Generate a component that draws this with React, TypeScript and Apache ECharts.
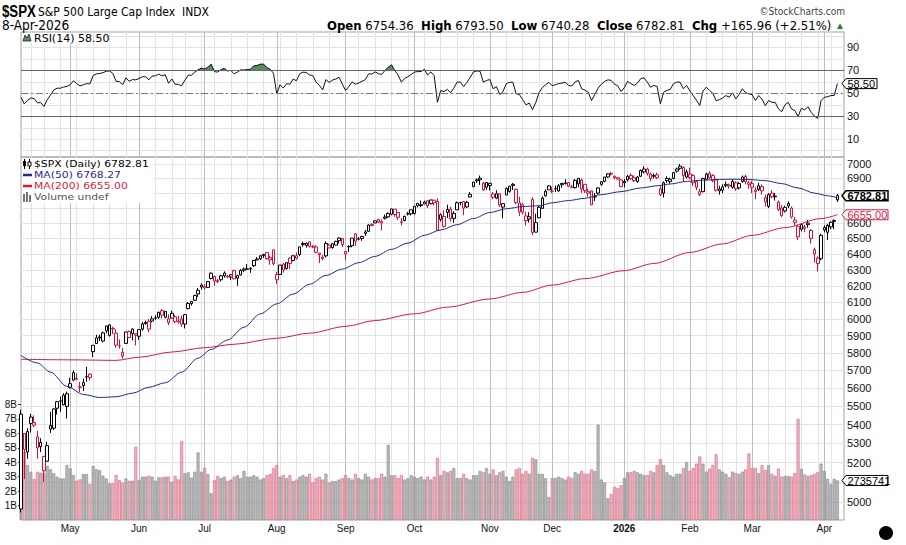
import React, { useEffect, useRef } from "react";
import * as echarts from "echarts";

// ---------------- DATA ----------------
const tradingDays: [number, number, number[]][] = [
  [2025, 4, [9, 10, 11, 14, 15, 16, 17, 21, 22, 23, 24, 25, 28, 29, 30]],
  [2025, 5, [1, 2, 5, 6, 7, 8, 9, 12, 13, 14, 15, 16, 19, 20, 21, 22, 23, 27, 28, 29, 30]],
  [2025, 6, [2, 3, 4, 5, 6, 9, 10, 11, 12, 13, 16, 17, 18, 20, 23, 24, 25, 26, 27, 30]],
  [2025, 7, [1, 2, 3, 7, 8, 9, 10, 11, 14, 15, 16, 17, 18, 21, 22, 23, 24, 25, 28, 29, 30, 31]],
  [2025, 8, [1, 4, 5, 6, 7, 8, 11, 12, 13, 14, 15, 18, 19, 20, 21, 22, 25, 26, 27, 28, 29]],
  [2025, 9, [2, 3, 4, 5, 8, 9, 10, 11, 12, 15, 16, 17, 18, 19, 22, 23, 24, 25, 26, 29, 30]],
  [2025, 10, [1, 2, 3, 6, 7, 8, 9, 10, 13, 14, 15, 16, 17, 20, 21, 22, 23, 24, 27, 28, 29, 30, 31]],
  [2025, 11, [3, 4, 5, 6, 7, 10, 11, 12, 13, 14, 17, 18, 19, 20, 21, 24, 25, 26, 28]],
  [2025, 12, [1, 2, 3, 4, 5, 8, 9, 10, 11, 12, 15, 16, 17, 18, 19, 22, 23, 24, 26, 29, 30, 31]],
  [2026, 1, [2, 5, 6, 7, 8, 9, 12, 13, 14, 15, 16, 20, 21, 22, 23, 26, 27, 28, 29, 30]],
  [2026, 2, [2, 3, 4, 5, 6, 9, 10, 11, 12, 13, 17, 18, 19, 20, 23, 24, 25, 26, 27]],
  [2026, 3, [2, 3, 4, 5, 6, 9, 10, 11, 12, 13, 16, 17, 18, 19, 20, 23, 24, 25, 26, 27, 30, 31]],
  [2026, 4, [1, 2, 6, 7, 8]],
];

// [open, high, low, close]
const ohlcApr25 = [
  [4965, 5481, 4948, 5457], [5353, 5353, 5115, 5268], [5255, 5381, 5220, 5363], [5441, 5459, 5358, 5406],
  [5411, 5450, 5386, 5397], [5335, 5367, 5220, 5276], [5305, 5328, 5255, 5283], [5232, 5232, 5101, 5158],
  [5207, 5309, 5207, 5288], [5395, 5469, 5356, 5376], [5381, 5489, 5371, 5485], [5489, 5528, 5455, 5525],
  [5529, 5553, 5468, 5529], [5508, 5572, 5505, 5561], [5499, 5581, 5433, 5569],
];
const ohlcMay25 = [
  [5625, 5658, 5597, 5604], [5645, 5700, 5639, 5687], [5655, 5683, 5644, 5650], [5605, 5634, 5578, 5607],
  [5614, 5654, 5584, 5631], [5663, 5720, 5635, 5664], [5679, 5683, 5643, 5660], [5807, 5845, 5775, 5844],
  [5854, 5906, 5853, 5887], [5887, 5906, 5869, 5893], [5869, 5924, 5861, 5917], [5929, 5958, 5914, 5958],
  [5902, 5968, 5895, 5964], [5944, 5953, 5909, 5940], [5915, 5938, 5830, 5845], [5841, 5878, 5825, 5842],
  [5781, 5829, 5767, 5803], [5855, 5922, 5854, 5922], [5925, 5930, 5886, 5889], [5939, 5944, 5873, 5912],
  [5903, 5915, 5843, 5911],
];
const ohlcJun25 = [
  [5897, 5937, 5876, 5936], [5939, 5981, 5929, 5970], [5978, 5990, 5966, 5971], [5985, 5999, 5921, 5939],
  [5987, 6016, 5978, 6000], [6005, 6021, 5994, 6006], [6009, 6043, 6000, 6039], [6049, 6059, 6002, 6022],
  [6009, 6045, 6003, 6045], [6000, 6027, 5963, 5977], [6004, 6050, 6004, 6033], [6012, 6023, 5974, 5983],
  [5987, 6018, 5971, 5981], [5999, 6018, 5952, 5968], [5969, 6028, 5943, 6025], [6061, 6101, 6058, 6092],
  [6104, 6108, 6080, 6092], [6112, 6146, 6107, 6141], [6150, 6187, 6133, 6173], [6193, 6215, 6177, 6205],
];
const ohlcJul25 = [
  [6187, 6210, 6177, 6198], [6191, 6227, 6188, 6227], [6246, 6284, 6240, 6279], [6259, 6262, 6201, 6230],
  [6233, 6242, 6217, 6226], [6238, 6269, 6228, 6263], [6262, 6290, 6251, 6280], [6255, 6269, 6247, 6260],
  [6255, 6272, 6237, 6269], [6295, 6302, 6241, 6244], [6248, 6268, 6201, 6264], [6268, 6304, 6264, 6297],
  [6305, 6315, 6285, 6297], [6304, 6336, 6303, 6306], [6306, 6316, 6281, 6310], [6326, 6360, 6317, 6359],
  [6368, 6381, 6360, 6363], [6370, 6390, 6363, 6389], [6397, 6401, 6375, 6390], [6409, 6409, 6365, 6371],
  [6377, 6390, 6332, 6363], [6427, 6427, 6327, 6339],
];
const ohlcAug25 = [
  [6270, 6288, 6212, 6238], [6271, 6330, 6271, 6330], [6336, 6344, 6283, 6299], [6309, 6350, 6301, 6345],
  [6374, 6379, 6305, 6340], [6359, 6390, 6354, 6389], [6389, 6410, 6364, 6373], [6397, 6446, 6386, 6446],
  [6460, 6480, 6447, 6467], [6455, 6473, 6441, 6469], [6478, 6481, 6441, 6450], [6445, 6457, 6437, 6449],
  [6445, 6457, 6404, 6411], [6406, 6407, 6343, 6396], [6380, 6394, 6360, 6370], [6388, 6481, 6378, 6467],
  [6457, 6466, 6438, 6439], [6441, 6468, 6434, 6466], [6457, 6485, 6457, 6481], [6485, 6508, 6468, 6502],
  [6500, 6501, 6444, 6460],
];
const ohlcSep25 = [
  [6401, 6416, 6361, 6416], [6446, 6456, 6414, 6448], [6453, 6502, 6443, 6502], [6530, 6533, 6452, 6482],
  [6498, 6510, 6488, 6495], [6500, 6513, 6485, 6513], [6542, 6555, 6516, 6532], [6546, 6592, 6546, 6587],
  [6590, 6600, 6579, 6584], [6601, 6616, 6600, 6615], [6625, 6626, 6600, 6607], [6610, 6624, 6551, 6600],
  [6640, 6656, 6624, 6632], [6641, 6671, 6634, 6664], [6659, 6696, 6651, 6694], [6692, 6692, 6642, 6657],
  [6670, 6670, 6620, 6638], [6608, 6633, 6584, 6605], [6617, 6650, 6612, 6644], [6661, 6674, 6650, 6661],
  [6661, 6689, 6651, 6688],
];
const ohlcOct25 = [
  [6664, 6714, 6656, 6711], [6731, 6731, 6703, 6715], [6722, 6750, 6705, 6716], [6727, 6749, 6726, 6740],
  [6749, 6754, 6700, 6715], [6729, 6753, 6724, 6754], [6752, 6756, 6717, 6735], [6744, 6764, 6550, 6553],
  [6625, 6664, 6610, 6655], [6579, 6686, 6570, 6644], [6690, 6722, 6634, 6671], [6692, 6709, 6611, 6629],
  [6631, 6678, 6602, 6664], [6688, 6743, 6688, 6735], [6736, 6742, 6718, 6735], [6743, 6744, 6652, 6699],
  [6707, 6747, 6700, 6738], [6774, 6807, 6772, 6792], [6843, 6877, 6843, 6875], [6884, 6900, 6870, 6891],
  [6902, 6920, 6856, 6891], [6867, 6877, 6815, 6822], [6872, 6873, 6822, 6840],
];
const ohlcNov25 = [
  [6867, 6870, 6818, 6852], [6794, 6808, 6758, 6772], [6766, 6820, 6760, 6796], [6795, 6799, 6707, 6720],
  [6706, 6729, 6631, 6729], [6787, 6838, 6787, 6832], [6812, 6850, 6803, 6847], [6860, 6869, 6822, 6851],
  [6826, 6830, 6725, 6737], [6674, 6775, 6646, 6734], [6722, 6735, 6657, 6672], [6647, 6675, 6583, 6617],
  [6627, 6672, 6604, 6642], [6757, 6771, 6521, 6539], [6541, 6662, 6539, 6603], [6635, 6714, 6632, 6705],
  [6697, 6777, 6694, 6766], [6782, 6826, 6777, 6813], [6822, 6853, 6822, 6849],
];
const ohlcDec25 = [
  [6813, 6843, 6800, 6813], [6830, 6851, 6808, 6829], [6815, 6862, 6810, 6850], [6866, 6866, 6836, 6857],
  [6866, 6895, 6858, 6870], [6872, 6875, 6841, 6847], [6842, 6856, 6833, 6841], [6837, 6895, 6830, 6887],
  [6863, 6903, 6840, 6901], [6890, 6900, 6801, 6827], [6860, 6862, 6801, 6817], [6812, 6830, 6775, 6800],
  [6815, 6818, 6720, 6721], [6775, 6800, 6746, 6775], [6800, 6840, 6790, 6835], [6860, 6880, 6850, 6878],
  [6880, 6910, 6875, 6910], [6910, 6937, 6905, 6932], [6935, 6945, 6920, 6930], [6915, 6920, 6895, 6906],
  [6905, 6910, 6890, 6896], [6890, 6895, 6840, 6845],
];
const ohlcJan26 = [
  [6880, 6895, 6840, 6870], [6890, 6925, 6880, 6915], [6920, 6935, 6890, 6900], [6905, 6920, 6875, 6885],
  [6880, 6915, 6870, 6910], [6915, 6962, 6910, 6955], [6945, 6985, 6935, 6965], [6965, 6975, 6920, 6935],
  [6930, 6940, 6880, 6900], [6920, 6935, 6900, 6915], [6925, 6940, 6895, 6905], [6830, 6850, 6780, 6790],
  [6800, 6880, 6770, 6870], [6900, 6915, 6870, 6885], [6880, 6905, 6865, 6895], [6900, 6945, 6895, 6940],
  [6950, 6975, 6940, 6965], [6985, 7000, 6960, 6970], [6975, 6985, 6880, 6920], [6910, 6960, 6900, 6945],
];
const ohlcFeb26 = [
  [6930, 6975, 6895, 6905], [6920, 6930, 6850, 6870], [6880, 6890, 6820, 6840], [6810, 6830, 6780, 6790],
  [6810, 6905, 6805, 6900], [6895, 6940, 6890, 6930], [6935, 6950, 6895, 6905], [6920, 6930, 6875, 6885],
  [6890, 6900, 6810, 6820], [6815, 6850, 6790, 6828], [6820, 6860, 6800, 6842], [6850, 6880, 6840, 6860],
  [6855, 6865, 6830, 6848], [6840, 6895, 6830, 6880], [6870, 6880, 6815, 6830], [6835, 6875, 6825, 6865],
  [6880, 6920, 6870, 6910], [6915, 6925, 6860, 6878], [6860, 6885, 6830, 6870],
];
const ohlcMar26 = [
  [6840, 6885, 6800, 6865], [6820, 6840, 6760, 6810], [6825, 6870, 6815, 6850], [6845, 6860, 6790, 6815],
  [6770, 6790, 6710, 6740], [6710, 6800, 6700, 6790], [6800, 6820, 6765, 6775], [6780, 6800, 6750, 6775],
  [6740, 6750, 6680, 6690], [6700, 6720, 6640, 6650], [6680, 6715, 6670, 6705], [6715, 6745, 6700, 6730],
  [6700, 6710, 6630, 6640], [6605, 6640, 6580, 6620], [6580, 6590, 6490, 6510], [6560, 6600, 6545, 6590],
  [6575, 6590, 6540, 6565], [6590, 6620, 6570, 6600], [6552, 6560, 6467, 6500], [6428, 6440, 6345, 6400],
  [6374, 6385, 6290, 6340], [6370, 6530, 6360, 6520],
];
const ohlcApr26 = [
  [6555, 6585, 6540, 6570], [6540, 6595, 6490, 6585], [6575, 6612, 6560, 6605], [6610, 6625, 6560, 6616.85],
  [6754.36, 6793.5, 6740.28, 6782.81],
];

// volume in billions
const volumeB = [
  6.69, 4.73, 3.81, 3.34, 2.84, 3.34, 3.27, 3.23, 3.74, 3.51, 3.23, 3.0, 2.88, 2.88, 3.81,
  3.58, 3.11, 2.72, 2.81, 3.18, 3.18, 2.49, 3.74, 3.51, 3.45, 3.07, 2.88, 2.54, 2.54, 3.11, 2.77, 2.58, 2.88, 2.72, 2.72, 5.07,
  2.77, 3.0, 3.0, 3.07, 3.0, 2.72, 2.95, 2.95, 3.0, 3.0, 2.65, 3.05, 2.81, 5.47, 3.23, 3.3, 2.93, 3.34, 4.68, 3.34,
  3.62, 3.18, 1.85, 2.77, 3.05, 2.9, 3.0, 2.7, 2.8, 3.0, 3.1, 2.9, 3.4, 3.0, 3.0, 3.1, 3.0, 2.8, 2.9, 3.1, 3.2, 3.6,
  3.8, 3.0, 3.1, 2.9, 3.1, 2.7, 2.8, 3.0, 3.1, 3.0, 3.2, 2.6, 2.9, 3.0, 2.8, 3.2, 2.6, 2.7, 2.7, 2.8, 2.9,
  3.1, 2.9, 2.8, 3.2, 2.9, 2.8, 3.2, 3.0, 2.8, 2.9, 2.9, 3.2, 3.0, 5.2, 3.1, 3.1, 2.9, 3.1, 2.8, 2.9, 3.1,
  3.0, 2.9, 3.0, 2.8, 3.0, 2.8, 3.0, 4.3, 3.1, 3.4, 3.3, 3.4, 3.6, 2.9, 2.9, 3.2, 2.9, 2.8, 3.1, 3.1, 3.4, 3.3, 3.6,
  3.2, 3.5, 3.1, 3.3, 3.4, 3.0, 2.7, 3.0, 3.5, 3.6, 3.2, 3.4, 3.2, 4.3, 4.2, 3.2, 3.2, 2.9, 1.6,
  2.9, 2.9, 3.0, 2.9, 2.8, 3.0, 2.9, 3.3, 3.2, 3.4, 3.2, 3.2, 3.5, 3.4, 6.6, 2.8, 2.6, 1.5, 1.8, 2.3, 2.2, 2.4,
  2.9, 3.3, 3.3, 3.4, 3.3, 3.2, 3.1, 3.1, 3.4, 3.3, 3.8, 4.2, 3.8, 3.3, 3.1, 3.0, 3.2, 3.2, 3.6, 4.0,
  3.4, 3.6, 3.9, 4.4, 3.9, 3.35, 3.55, 3.8, 4.55, 3.5, 3.35, 3.2, 2.95, 3.35, 3.25, 3.2, 3.35, 3.5, 4.6,
  3.6, 3.6, 3.25, 3.8, 3.45, 3.8, 3.2, 3.05, 3.55, 3.0, 3.05, 3.05, 3.0, 3.25, 7.0, 3.55, 3.15, 3.05, 3.1, 3.2, 3.3, 3.9,
  3.4, 2.85, 2.5, 2.85, 2.735741,
];

const rsi14 = [
  46.5, 40.8, 44, 46, 45.5, 41.7, 42, 38.5, 44.5, 48.5, 53, 54.5, 54.5, 55.5, 56,
  57.5, 61, 58.5, 56.5, 57.5, 58.5, 58.2, 65.5, 67, 67.3, 68, 69.3, 69.5, 67.5, 60.5, 60.3, 57.5, 63.5, 60.5, 62, 61.8,
  63, 64.5, 64.5, 61.8, 65, 65.3, 66.8, 65.2, 66.2, 58.8, 62.5, 58, 57.8, 56.6, 61.5, 65.8, 65.8, 68.5, 70.5, 72,
  71.2, 72.8, 75.5, 69, 68.5, 70.8, 71.8, 69.5, 70, 67, 68.5, 70.5, 70.3, 70.8, 71, 74, 74.3, 75.5, 75.5, 72.5, 71, 67.5,
  49.5, 57.5, 54.6, 58.4, 58, 62.5, 61, 67, 68.5, 68.2, 66, 65.5, 59.8, 57, 53, 62, 59.5, 61.5, 62.5, 64, 58,
  52.5, 56, 60, 58, 59, 60.5, 62, 67, 66.8, 68.7, 67.2, 66.5, 70, 72.8, 75, 70, 66, 59.8, 63, 64.5, 66.5,
  68.5, 69, 69, 71, 66, 68.7, 65.5, 42.2, 52.5, 51.5, 53.5, 50.5, 54.5, 59.8, 59.8, 56, 59.5, 64, 68.7, 69.5, 69.3, 59.8, 61.3,
  62, 54, 55.8, 49, 51.5, 58.5, 59.5, 59.8, 49.6, 49, 44.5, 40, 41.5, 35.8, 42, 50.5, 55, 57.5, 59.5,
  56.6, 57.5, 58.5, 59, 59.8, 56.9, 56.5, 60, 61.3, 54, 52.8, 51, 43.7, 49, 54.5, 58, 60.4, 61.8, 61.3, 58, 56.5, 51.6,
  55, 60.4, 58.5, 56.9, 59, 62.8, 63.5, 59.8, 55.4, 56.9, 56, 40.8, 51, 52.5, 53.5, 58.4, 59.8, 59.8, 54, 56.9,
  52, 48.1, 44, 39.3, 52, 55.4, 52.5, 50, 43.7, 44.5, 46, 48.1, 46.6, 50.5, 45.2, 49, 54, 50.5, 49.6,
  48.8, 43.7, 48.1, 45, 39.3, 43.7, 42.2, 42.2, 36.5, 34, 40, 42.2, 36.4, 35, 29.9, 37, 35.5, 38.4, 33.4, 30, 28.2, 43.7,
  46.6, 47, 48.1, 48.1, 58.5,
];

const ma50Points: [string, number][] = [
  ["2025-04-09", 5785], ["2025-04-16", 5742], ["2025-04-23", 5690], ["2025-04-30", 5610], ["2025-05-07", 5565],
  ["2025-05-14", 5548], ["2025-05-21", 5552], ["2025-05-29", 5572], ["2025-06-05", 5605], ["2025-06-12", 5630],
  ["2025-06-20", 5690], ["2025-06-27", 5770], ["2025-07-03", 5820], ["2025-07-11", 5875], ["2025-07-18", 5950],
  ["2025-07-25", 6030], ["2025-08-01", 6090], ["2025-08-08", 6150], ["2025-08-15", 6210], ["2025-08-22", 6265],
  ["2025-08-29", 6305], ["2025-09-08", 6345], ["2025-09-15", 6385], ["2025-09-22", 6430], ["2025-09-29", 6470],
  ["2025-10-06", 6520], ["2025-10-13", 6555], ["2025-10-20", 6590], ["2025-10-27", 6630], ["2025-11-03", 6670],
  ["2025-11-10", 6695], ["2025-11-17", 6710], ["2025-11-24", 6715], ["2025-12-01", 6735], ["2025-12-08", 6750],
  ["2025-12-15", 6765], ["2025-12-22", 6790], ["2025-12-31", 6810], ["2026-01-09", 6835], ["2026-01-16", 6850],
  ["2026-01-23", 6862], ["2026-01-30", 6880], ["2026-02-06", 6888], ["2026-02-13", 6893], ["2026-02-20", 6895],
  ["2026-02-27", 6893], ["2026-03-06", 6885], ["2026-03-13", 6865], ["2026-03-20", 6835], ["2026-03-27", 6800],
  ["2026-04-02", 6782], ["2026-04-08", 6768.27],
];
const ma200Points: [string, number][] = [
  ["2025-04-09", 5763], ["2025-05-01", 5760], ["2025-05-21", 5757], ["2025-06-02", 5775], ["2025-06-16", 5805],
  ["2025-07-01", 5830], ["2025-07-15", 5850], ["2025-08-01", 5885], ["2025-08-15", 5915], ["2025-09-02", 5955],
  ["2025-09-15", 5990], ["2025-10-01", 6030], ["2025-10-15", 6070], ["2025-11-03", 6120], ["2025-11-17", 6160],
  ["2025-12-01", 6205], ["2025-12-15", 6245], ["2026-01-02", 6295], ["2026-01-15", 6340], ["2026-02-02", 6410],
  ["2026-02-17", 6465], ["2026-03-02", 6520], ["2026-03-16", 6570], ["2026-03-31", 6630], ["2026-04-08", 6655],
];

const priceTicks = [5000, 5100, 5200, 5300, 5400, 5500, 5600, 5700, 5800, 5900, 6000, 6100, 6200, 6300, 6400, 6500, 6600, 6700, 6800, 6900, 7000];
// 5100, 6700 and 6800 sit under the value tags, as in the original
const priceLabels = [5000, 5200, 5300, 5400, 5500, 5600, 5700, 5800, 5900, 6000, 6100, 6200, 6300, 6400, 6500, 6600, 6900, 7000];
const rsiGridValues = [0, 10, 20, 30, 40, 50, 60, 70, 80, 90, 100];
const rsiLabelValues = [10, 30, 50, 70, 90];
const volumeTicks = [1, 2, 3, 4, 5, 6, 7, 8];
const monthNames = ["Jan", "Feb", "Mar", "Apr", "May", "Jun", "Jul", "Aug", "Sep", "Oct", "Nov", "Dec"];

const lastClose = 6782.81;
const lastMa50 = 6768.27;
const lastMa200 = 6655.0;
const lastRsi = 58.5;
const lastVolume = 2735741;

// ---------------- HELPERS ----------------
const UP = "#000000";
const DOWN = "#cf1038";
const NARROW = "'Liberation Sans Narrow','Arial Narrow','DejaVu Sans Condensed','Liberation Sans',sans-serif";
const VERD = "'DejaVu Sans',Verdana,sans-serif";
const ARIAL = "'Liberation Sans',Arial,sans-serif";

function buildDates() {
  const dates: string[] = [];
  const dayNums: number[] = [];
  tradingDays.forEach(([y, m, ds]) =>
    ds.forEach((d) => {
      dates.push(`${y}-${String(m).padStart(2, "0")}-${String(d).padStart(2, "0")}`);
      dayNums.push(Date.UTC(y, m - 1, d) / 86400000);
    })
  );
  return { dates, dayNums };
}

export default function App() {
  const ref = useRef<HTMLDivElement>(null);

  useEffect(() => {
    if (!ref.current) return;
    const chart = echarts.init(ref.current, undefined, { renderer: "svg" });

    const { dates, dayNums } = buildDates();
    const n = dates.length;
    const categories = [...dates, "pad-1", "pad-2"];
    const monthStart: boolean[] = categories.map((_, i) => i > 0 && i < n && dates[i].slice(0, 7) !== dates[i - 1].slice(0, 7));
    const weekStart: boolean[] = categories.map((_, i) => {
      if (i === 0 || i >= n || monthStart[i]) return false;
      return Math.floor((dayNums[i] + 3) / 7) !== Math.floor((dayNums[i - 1] + 3) / 7);
    });

    const ohlc = [
      ...ohlcApr25, ...ohlcMay25, ...ohlcJun25, ...ohlcJul25, ...ohlcAug25, ...ohlcSep25,
      ...ohlcOct25, ...ohlcNov25, ...ohlcDec25, ...ohlcJan26, ...ohlcFeb26, ...ohlcMar26, ...ohlcApr26,
    ];
    const dirColor = (i: number) => (i === 0 || ohlc[i][3] >= ohlc[i - 1][3] ? UP : DOWN);
    const candleData = ohlc.map(([o, h, l, c], i) => {
      const col = dirColor(i);
      return {
        value: [o, c, l, h],
        itemStyle: { color: "#ffffff", color0: col, borderColor: col, borderColor0: col, borderWidth: 1 },
      };
    });
    const volData = volumeB.map((v, i) => {
      const up = dirColor(i) === UP;
      return {
        value: v,
        itemStyle: up
          ? { color: "rgba(150,150,150,0.65)", borderColor: "#8f8f8f", borderWidth: 0.7 }
          : { color: "rgba(222,140,156,0.62)", borderColor: "#dd7088", borderWidth: 0.7 },
      };
    });
    const toLine = (pts: [string, number][]) => {
      const arr: (number | null)[] = categories.map(() => null);
      pts.forEach(([d, v]) => {
        const k = dates.indexOf(d);
        if (k >= 0) arr[k] = v;
      });
      return arr;
    };

    const majorLine = { color: "#bcbcbc", width: 1 };
    const minorLine = { color: "#e3e3e3", width: 1 };
    const cat = (gridIndex: number, extra: any = {}) => ({
      type: "category",
      gridIndex,
      data: categories,
      boundaryGap: false,
      axisLine: { show: false },
      axisTick: { show: false },
      axisLabel: { show: false },
      splitLine: { show: false },
      ...extra,
    });

    const option: any = {
      animation: false,
      backgroundColor: "#ffffff",
      textStyle: { fontFamily: ARIAL },
      grid: [
        { left: 21, top: 32, width: 823, height: 125, show: true, borderColor: "#a3a3a3", borderWidth: 1 },
        { left: 21, top: 157, width: 823, height: 363, show: true, borderColor: "#a3a3a3", borderWidth: 1 },
        { left: 21, top: 375.5, width: 823, height: 144.5, show: false },
      ],
      xAxis: [
        cat(0, { splitLine: { show: true, interval: (i: number) => weekStart[i], lineStyle: minorLine } }),
        cat(0, { splitLine: { show: true, interval: (i: number) => monthStart[i], lineStyle: majorLine } }),
        cat(1, { splitLine: { show: true, interval: (i: number) => weekStart[i], lineStyle: minorLine } }),
        cat(1, {
          position: "bottom",
          splitLine: { show: true, interval: (i: number) => monthStart[i], lineStyle: majorLine },
          axisLabel: {
            show: true,
            interval: (i: number) => monthStart[i],
            margin: 3,
            fontSize: 10,
            fontFamily: ARIAL,
            color: "#111",
            formatter: (v: string) => {
              const m = Number(v.slice(5, 7));
              return m === 1 ? `{b|${v.slice(0, 4)}}` : monthNames[m - 1];
            },
            rich: { b: { fontWeight: "bold", fontSize: 10, fontFamily: ARIAL, color: "#111" } },
          },
        }),
        cat(2),
      ],
      yAxis: [
        {
          type: "value", gridIndex: 0, min: -5.5, max: 103.5, position: "right",
          axisLine: { show: false },
          axisTick: { show: false, customValues: rsiGridValues },
          axisLabel: { customValues: rsiLabelValues, margin: 3, fontSize: 11, lineHeight: 8, color: "#111", fontFamily: ARIAL },
          splitLine: { show: true, lineStyle: minorLine },
        },
        {
          type: "log", gridIndex: 1, min: 4911, max: 7049, position: "right", logBase: 10,
          axisLine: { show: false },
          axisTick: { show: false, customValues: priceTicks },
          axisLabel: {
            customValues: priceLabels, margin: 3, fontSize: 11, lineHeight: 8, color: "#111", fontFamily: ARIAL,
            formatter: (v: number) => String(Math.round(v)),
          },
          splitLine: { show: true, lineStyle: minorLine },
        },
        {
          type: "value", gridIndex: 2, min: 0, max: 10, position: "left",
          axisLine: { show: false },
          axisTick: { show: true, length: 3, customValues: volumeTicks, lineStyle: { color: "#333" } },
          axisLabel: { customValues: volumeTicks, margin: 4, fontSize: 10, lineHeight: 8, color: "#111", fontFamily: ARIAL, formatter: (v: number) => `${v}B` },
          splitLine: { show: false },
        },
      ],
      visualMap: [
        {
          type: "piecewise", show: false, seriesIndex: 0, dimension: 1,
          pieces: [
            { gt: 70, lte: 1000, color: "#5d8a5a" },
            { gte: -1000, lte: 70, color: "rgba(255,255,255,0)" },
          ],
        },
      ],
      series: [
        {
          type: "line", name: "rsiFill", xAxisIndex: 1, yAxisIndex: 0, data: rsi14, symbol: "none",
          lineStyle: { width: 0 }, areaStyle: { origin: 70, opacity: 1 }, z: 3, silent: true,
        },
        {
          type: "line", name: "rsi", xAxisIndex: 1, yAxisIndex: 0, data: rsi14, symbol: "none",
          lineStyle: { color: "#111", width: 1 }, z: 4, silent: true,
          markLine: {
            silent: true, symbol: "none", label: { show: false }, animation: false,
            data: [
              { yAxis: 70, lineStyle: { color: "#666", width: 1, type: "solid" } },
              { yAxis: 30, lineStyle: { color: "#666", width: 1, type: "solid" } },
              { yAxis: 50, lineStyle: { color: "#777", width: 1, type: [7, 3, 2, 3] } },
            ],
          },
        },
        {
          type: "bar", name: "volume", xAxisIndex: 4, yAxisIndex: 2, data: volData, barWidth: 3, z: 1, silent: true,
        },
        {
          type: "candlestick", name: "$SPX", xAxisIndex: 3, yAxisIndex: 1, data: candleData, barWidth: 3, z: 3, silent: true,
        },
        {
          type: "line", name: "MA200", xAxisIndex: 3, yAxisIndex: 1, data: toLine(ma200Points), connectNulls: true,
          symbol: "none", smooth: 0.3, smoothMonotone: "x", lineStyle: { color: "#d21d3e", width: 1 }, z: 4, silent: true,
        },
        {
          type: "line", name: "MA50", xAxisIndex: 3, yAxisIndex: 1, data: toLine(ma50Points), connectNulls: true,
          symbol: "none", smooth: 0.3, smoothMonotone: "x", lineStyle: { color: "#1f2b8e", width: 1 }, z: 4, silent: true,
        },
      ],
    };

    chart.setOption(option);

    const tag = (y: number, text: string, color: string, width: number, bold: boolean) => ({
      type: "group",
      z: 200,
      children: [
        {
          type: "polygon", z: 200,
          shape: { points: [[842, y], [846, y - 5], [846 + width, y - 5], [846 + width, y + 5], [846, y + 5]] },
          style: { fill: "#ffffff", stroke: color, lineWidth: bold ? 1.5 : 1 },
        },
        {
          type: "text", z: 201, x: 847.5, y: y + 0.5,
          style: { text, fill: color, fontSize: 11, lineHeight: 8, fontFamily: ARIAL, fontWeight: bold ? "bold" : "normal", verticalAlign: "middle", align: "left" },
        },
      ],
    });

    const px = (axisIndex: number, v: number) => {
      const r = chart.convertToPixel({ yAxisIndex: axisIndex } as any, v) as any;
      return typeof r === "number" ? r : Array.isArray(r) ? r[1] : 0;
    };
    const yClose = px(1, lastClose);
    const yMa200 = px(1, lastMa200);
    const yRsi = px(0, lastRsi);
    const yVol = px(2, lastVolume / 1e6);

    // legend rows: small font stretched horizontally so rows 11px apart do not collide
    const legendText = (y: number, text: string, color: string) => ({
      type: "text", x: 34, y, z: 152, scaleX: 1.15, originX: 0, originY: 0,
      style: { text, fill: color, fontSize: 9.4, lineHeight: 9, fontFamily: VERD, verticalAlign: "middle", align: "left" },
    });

    const graphic: any[] = [
      // header
      { type: "text", x: 2, y: 11, scaleX: 0.78, originX: 0, originY: 0, style: { text: "$SPX", fill: "#000", fontSize: 17, fontWeight: "bold", fontFamily: ARIAL, verticalAlign: "middle" } },
      { type: "text", x: 38, y: 12, style: { text: "S&P 500 Large Cap Index  INDX", fill: "#000", fontSize: 12, fontFamily: NARROW, verticalAlign: "middle" } },
      { type: "text", x: 2, y: 25, style: { text: "8-Apr-2026", fill: "#000", fontSize: 13.5, fontFamily: NARROW, verticalAlign: "middle" } },
      { type: "text", x: 845, y: 11, style: { text: "©StockCharts.com", fill: "#444", fontSize: 10, fontFamily: NARROW, verticalAlign: "middle", align: "right" } },
      {
        type: "text", x: 845, y: 25,
        style: {
          text: "{b|Open} 6754.36  {b|High} 6793.50  {b|Low} 6740.28  {b|Close} 6782.81  {b|Chg} +165.96 (+2.51%) {g|▲}",
          fill: "#000", fontSize: 13, fontFamily: NARROW, verticalAlign: "middle", align: "right",
          rich: {
            b: { fontWeight: "bold", fontSize: 13, fontFamily: NARROW, fill: "#000" },
            g: { fontSize: 10, fill: "#2b7a2b" },
          },
        },
      },
      // RSI label
      { type: "rect", z: 150, shape: { x: 22, y: 33, width: 68, height: 10 }, style: { fill: "#fff" } },
      { type: "polygon", z: 151, shape: { points: [[23, 41], [25, 35], [27, 38], [29, 34], [31, 41]] }, style: { fill: "#5d8a5a", stroke: "#222", lineWidth: 0.8 } },
      { type: "text", x: 34, y: 38, z: 152, style: { text: "RSI(14) 58.50", fill: "#000", fontSize: 11, lineHeight: 10, fontFamily: VERD, verticalAlign: "middle" } },
      // price legend
      { type: "rect", z: 149, shape: { x: 22, y: 158, width: 132, height: 45 }, style: { fill: "#fff" } },
      { type: "line", z: 151, shape: { x1: 24.5, y1: 159, x2: 24.5, y2: 169 }, style: { stroke: "#000", lineWidth: 1 } },
      { type: "rect", z: 152, shape: { x: 23, y: 161, width: 3, height: 5 }, style: { fill: "#000" } },
      { type: "line", z: 151, shape: { x1: 29.5, y1: 159, x2: 29.5, y2: 169 }, style: { stroke: "#000", lineWidth: 1 } },
      { type: "rect", z: 152, shape: { x: 28, y: 162, width: 3, height: 4 }, style: { fill: "#fff", stroke: "#000", lineWidth: 1 } },
      { type: "line", z: 151, shape: { x1: 23, y1: 175, x2: 32, y2: 175 }, style: { stroke: "#1f2b8e", lineWidth: 2.5 } },
      { type: "line", z: 151, shape: { x1: 23, y1: 186, x2: 32, y2: 186 }, style: { stroke: "#d21d3e", lineWidth: 2.5 } },
      { type: "rect", z: 151, shape: { x: 23, y: 194, width: 2, height: 8 }, style: { fill: "#777" } },
      { type: "rect", z: 151, shape: { x: 26, y: 192, width: 2, height: 10 }, style: { fill: "#777" } },
      { type: "rect", z: 151, shape: { x: 29, y: 195, width: 2, height: 7 }, style: { fill: "#777" } },
      legendText(164, `$SPX (Daily) ${lastClose.toFixed(2)}`, "#000"),
      legendText(175, `MA(50) ${lastMa50.toFixed(2)}`, "#1f2b8e"),
      legendText(186, `MA(200) ${lastMa200.toFixed(2)}`, "#d21d3e"),
      legendText(197, "Volume undef", "#555"),
      // value tags
      tag(yRsi, lastRsi.toFixed(2), "#000", 31, false),
      tag(yClose, lastClose.toFixed(2), "#000", 42, true),
      tag(yMa200, lastMa200.toFixed(2), "#d21d3e", 42, false),
      tag(yVol, String(lastVolume), "#000", 42, false),
      // corner dot
      { type: "circle", shape: { cx: 886, cy: 533, r: 7 }, style: { fill: "#000" } },
    ];

    chart.setOption({ graphic });

    return () => chart.dispose();
  }, []);

  return (
    <div
      ref={ref}
      style={{ position: "fixed", left: 0, top: 0, width: 906, height: 545, background: "#fff" }}
    />
  );
}
